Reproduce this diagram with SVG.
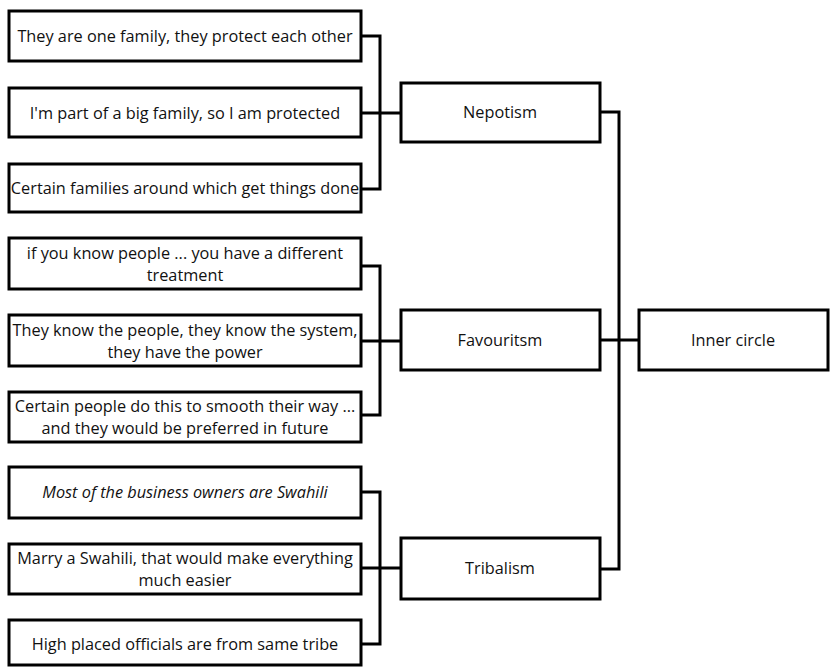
<svg xmlns="http://www.w3.org/2000/svg" width="830" height="667" viewBox="0 0 830 667">
<style>
rect{fill:#fff;stroke:#000;stroke-width:3}
.c{fill:none;stroke:#000;stroke-width:3}
text{font-family:"Open Sans","Liberation Sans",Arial,sans-serif;font-size:16.3px;fill:#111;text-anchor:middle;dominant-baseline:central}
</style>
<rect x="0" y="0" width="830" height="667" style="stroke:none"/>
<g id="connectors">
<path class="c" d="M361 36H380V189H361M361 113H401"/>
<path class="c" d="M361 266H380V415H361M361 341H401"/>
<path class="c" d="M361 492H380V644H361M361 568H401"/>
<path class="c" d="M600 112H619V569H600M600 340H639"/>
</g>
<g id="q1"><rect x="9" y="11" width="352" height="50"/><text x="185" y="36">They are one family, they protect each other</text></g>
<g id="q2"><rect x="9" y="88" width="352" height="49"/><text x="185" y="113">I'm part of a big family, so I am protected</text></g>
<g id="q3"><rect x="9" y="164" width="352" height="48"/><text x="185" y="188">Certain families around which get things done</text></g>
<g id="q4"><rect x="9" y="238" width="352" height="51"/><text x="185" y="252.5">if you know people ... you have a different</text><text x="185" y="274.5">treatment</text></g>
<g id="q5"><rect x="9" y="315" width="352" height="51"/><text x="185" y="329.5">They know the people, they know the system,</text><text x="185" y="351.5">they have the power</text></g>
<g id="q6"><rect x="9" y="392" width="352" height="50"/><text x="185" y="406">Certain people do this to smooth their way ...</text><text x="185" y="428">and they would be preferred in future</text></g>
<g id="q7"><rect x="9" y="467" width="352" height="51"/><text x="185" y="492" font-style="italic">Most of the business owners are Swahili</text></g>
<g id="q8"><rect x="9" y="544" width="352" height="50"/><text x="185" y="557.5">Marry a Swahili, that would make everything</text><text x="185" y="579.5">much easier</text></g>
<g id="q9"><rect x="9" y="620" width="352" height="45"/><text x="185" y="644">High placed officials are from same tribe</text></g>
<g id="nepotism"><rect x="401" y="83" width="199" height="59"/><text x="500" y="112">Nepotism</text></g>
<g id="favouritsm"><rect x="401" y="310" width="199" height="60"/><text x="500" y="340">Favouritsm</text></g>
<g id="tribalism"><rect x="401" y="538" width="199" height="61"/><text x="500" y="568">Tribalism</text></g>
<g id="inner"><rect x="639" y="310" width="189" height="60"/><text x="733" y="340">Inner circle</text></g>
</svg>
